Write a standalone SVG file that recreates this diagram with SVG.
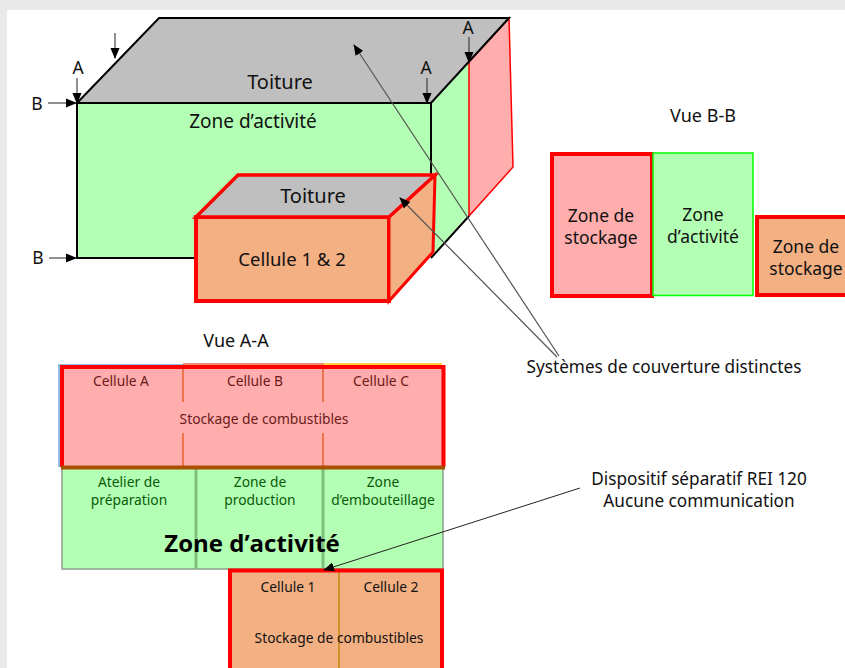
<svg xmlns="http://www.w3.org/2000/svg" width="845" height="668" viewBox="0 0 845 668">
<style>
text{font-family:"Noto Sans","DejaVu Sans",sans-serif;fill:#111;text-anchor:middle}
.f14{font-size:17.5px}.f13{font-size:13.8px}.f15{font-size:17.500px}.f20{font-size:20px}
.k{stroke:#000;fill:none;stroke-width:2}
.r{stroke:#f00;stroke-linejoin:miter}
.g{fill:#b3ffb3}.p{fill:#ffadad}.o{fill:#f3b083}.s{fill:#bfbfbf}
.a{stroke:#222;stroke-width:1;fill:none}
.l{stroke:#555;stroke-width:1.200;fill:none}
.d{fill:#6b1a1a}
</style>
<defs>
<marker id="ah" viewBox="0 0 12 12" refX="11" refY="6" markerWidth="11" markerHeight="11" markerUnits="userSpaceOnUse" orient="auto"><path d="M0 1L12 6L0 11Z" fill="#000"/></marker>
</defs>
<rect width="845" height="668" fill="#e9e9e9"/>
<rect x="7" y="10" width="838" height="658" fill="#fff"/>

<g id="batiment">
<path class="g" d="M77 103H431L509 18V166L431 258H77Z"/>
<path class="p" stroke="#f00" stroke-width="1.5" d="M469 62L509 18L513 167L469 216Z"/>
<path class="s" d="M77 103L159 18H509L431 103Z"/>
<path class="k" d="M77 103L159 18H509L431 103H77V258H196M431 103V180M469 216L431 258"/>
<text class="f20" x="280" y="89">Toiture</text>
<text style="font-size:19px" x="253" y="128">Zone d’activité</text>
</g>

<g id="cellule-3d">
<path class="o r" stroke-width="4" d="M196 217H389V301H196Z"/>
<path class="o r" stroke-width="3" d="M389 217L435 175L433 252L389 301Z"/>
<path class="s r" stroke-width="3.5" d="M196 217L238 175H435L389 217Z"/>
<text class="f20" x="313" y="203">Toiture</text>
<text style="font-size:18.500px" x="292" y="266">Cellule 1 &amp; 2</text>
</g>

<g id="labels-coupes">
<text class="f14" x="78" y="74">A</text>
<text class="f14" x="426" y="74">A</text>
<text class="f14" x="468" y="34">A</text>
<text class="f14" x="37" y="110">B</text>
<text class="f14" x="38" y="264">B</text>
</g>

<g id="vue-bb">
<text style="font-size:18px" x="703" y="122">Vue B-B</text>
<rect class="p r" stroke-width="4" x="552" y="154" width="100" height="142"/>
<rect class="g" stroke="#0f0" stroke-width="1.5" x="653" y="153" width="100" height="142.500"/>
<rect class="o r" stroke-width="4" x="757" y="217" width="95" height="78"/>
<text class="f15"><tspan x="601" y="222">Zone de</tspan><tspan x="601" y="244">stockage</tspan></text>
<text class="f15"><tspan x="703" y="221">Zone</tspan><tspan x="703" y="243">d’activité</tspan></text>
<text class="f15"><tspan x="806" y="253">Zone de</tspan><tspan x="806" y="275">stockage</tspan></text>
</g>

<g id="vue-aa">
<text style="font-size:18px" x="236" y="347">Vue A-A</text>
<path fill="none" stroke="#6fa8dc" stroke-width="1.500" d="M59 467V365H183"/>
<path fill="none" stroke="#e8906a" stroke-width="2" d="M183 364H324"/>
<path fill="none" stroke="#ffc000" stroke-width="1.500" d="M324 364H442"/>
<rect class="g" stroke="#8a9f8a" stroke-width="1.500" x="62" y="467" width="381" height="102"/>
<rect class="p" x="62" y="367" width="381" height="100"/>
<path stroke="#e8602c" stroke-width="1.500" fill="none" d="M183 368V402M183 433V467M323 368V402M323 433V467"/>
<path stroke="#7fc07f" stroke-width="3" fill="none" d="M196 468V569M323 468V569"/>
<path fill="none" stroke="#f00" stroke-width="4" d="M62 467V367H443.500V467"/>
<path fill="none" stroke="#a94f00" stroke-width="4" d="M61 467.500H445"/>
<text class="d f13" x="121" y="386">Cellule A</text>
<text class="d f13" x="255" y="386">Cellule B</text>
<text class="d f13" x="381" y="386">Cellule C</text>
<text class="d f13" x="264" y="424">Stockage de combustibles</text>
<text class="f13" style="fill:#0a5a0a"><tspan x="129" y="487">Atelier de</tspan><tspan x="129" y="505">préparation</tspan></text>
<text class="f13" style="fill:#0a5a0a"><tspan x="260" y="487">Zone de</tspan><tspan x="260" y="505">production</tspan></text>
<text class="f13" style="fill:#0a5a0a"><tspan x="383" y="487">Zone</tspan><tspan x="383" y="505">d’embouteillage</tspan></text>
<text x="252" y="552" style="font-size:24px;font-weight:700;fill:#000;font-family:'Open Sans','Noto Sans',sans-serif">Zone d’activité</text>
</g>

<g id="cellules-1-2">
<rect class="o" x="230" y="570" width="213" height="110"/>
<path stroke="#c8860a" stroke-width="1.500" fill="none" d="M339 570V668"/>
<path fill="none" stroke="#f00" stroke-width="4" d="M230 668V570.500H442V668"/>
<text class="f13" x="288" y="592">Cellule 1</text>
<text class="f13" x="391" y="592">Cellule 2</text>
<text class="f13" x="339" y="643">Stockage de combustibles</text>
</g>

<g id="annotations">
<text style="font-size:17.200px" x="664" y="373">Systèmes de couverture distinctes</text>
<text style="font-size:17.200px"><tspan x="699" y="485">Dispositif séparatif REI 120</tspan><tspan x="699" y="507">Aucune communication</tspan></text>
</g>

<g id="connectors">
<path class="a" marker-end="url(#ah)" d="M115 33V58"/>
<path class="a" marker-end="url(#ah)" d="M77 78V103"/>
<path class="a" marker-end="url(#ah)" d="M427 78V103"/>
<path class="a" marker-end="url(#ah)" d="M469 37V62"/>
<path class="a" marker-end="url(#ah)" d="M48 103H76"/>
<path class="a" marker-end="url(#ah)" d="M49 258H76"/>
<path class="l" marker-end="url(#ah)" d="M559 356L354 45"/>
<path class="l" marker-end="url(#ah)" d="M557 357L400 198"/>
<path class="a" marker-end="url(#ah)" d="M580 488L324 570"/>
</g>
</svg>
